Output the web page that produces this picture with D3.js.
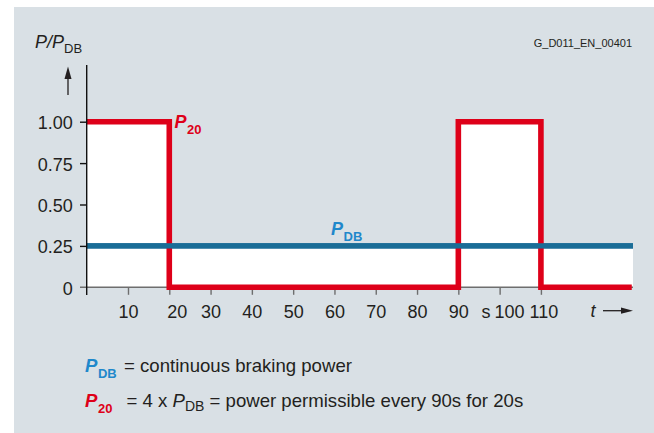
<!DOCTYPE html>
<html>
<head>
<meta charset="utf-8">
<script src="https://cdn.jsdelivr.net/npm/d3@7"></script>
<style>
  html, body { margin: 0; padding: 0; background: #ffffff; }
  svg { display: block; font-family: "Liberation Sans", Arial, Helvetica, sans-serif; }
</style>
</head>
<body>
<svg id="chart" width="654" height="433"></svg>
<script>
// Braking duty cycle: permissible peak power P20 vs. continuous braking power PDB
const stepTimes = [0, 20, 90, 110, 132];      // s, start of each step
const p20Values = [1, 0, 1, 0, 0];            // P/PDB at each step
const pdbValue = 0.25;                         // continuous level
const xTicks = [10, 20, 30, 40, 50, 60, 70, 80, 90, 100, 110];
const yTicks = [0, 0.25, 0.5, 0.75, 1];
const yTickLabels = ["0", "0.25", "0.50", "0.75", "1.00"];
const xMax = 132.3;

const svg = d3.select("#chart");
const W = 654, H = 433;

const ink = "#231f20";
const red = "#de0019";
const blueLine = "#1a6d97";
const blueText = "#1f88cb";

const x = d3.scaleLinear().domain([0, xMax]).range([86.7, 633]);
const y = d3.scaleLinear().domain([0, 1]).range([287.3, 121.7]);

// panel
svg.append("rect").attr("x", 14).attr("y", 7).attr("width", W - 14).attr("height", H - 7)
  .attr("fill", "#d9e0e5");

// white envelope under the larger of the two curves
const envelope = stepTimes.map((t, i) => ({ t, v: Math.max(p20Values[i], pdbValue) }));
envelope.push({ t: xMax, v: pdbValue });
svg.append("path")
  .datum(envelope)
  .attr("fill", "#ffffff")
  .attr("d", d3.area().curve(d3.curveStepAfter)
    .x(d => x(d.t)).y0(y(0)).y1(d => y(d.v)));

// x axis (grey baseline with ticks below)
const xAxis = svg.append("g").attr("transform", `translate(0,${y(0)})`)
  .call(d3.axisBottom(x).tickValues(xTicks).tickSize(7.5).tickFormat(""));
xAxis.select(".domain").remove();
xAxis.selectAll(".tick line").attr("stroke", "#6e6e6e").attr("stroke-width", 1.4);
svg.append("line")
  .attr("x1", 80).attr("x2", x(xMax)).attr("y1", y(0)).attr("y2", y(0))
  .attr("stroke", "#6e6e6e").attr("stroke-width", 1.5);

// x tick labels (a few nudged clear of the pulse edges)
const nudge = { 20: 8, 100: 10, 110: 3 };
svg.append("g").selectAll("text").data(xTicks).join("text")
  .attr("x", d => x(d) + (nudge[d] ?? 0.5))
  .attr("y", 318)
  .attr("text-anchor", "middle")
  .attr("font-size", 18)
  .attr("fill", ink)
  .text(d => d);
svg.append("text").attr("x", 486).attr("y", 318).attr("text-anchor", "middle")
  .attr("font-size", 18).attr("fill", ink).text("s");

// t axis label with arrow
svg.append("text").attr("x", 593).attr("y", 317).attr("text-anchor", "middle")
  .attr("font-size", 18).attr("font-style", "italic").attr("fill", ink).text("t");
svg.append("line").attr("x1", 603).attr("x2", 624).attr("y1", 310.7).attr("y2", 310.7)
  .attr("stroke", ink).attr("stroke-width", 1.3);
svg.append("path").attr("d", "M633,310.7 L621,307.6 L621,313.8 Z").attr("fill", ink);

// continuous level PDB
const pdbLine = d3.line().x(d => x(d)).y(() => y(pdbValue));
svg.append("path")
  .datum([0, xMax])
  .attr("fill", "none")
  .attr("stroke", blueLine)
  .attr("stroke-width", 5.4)
  .attr("d", pdbLine);

// P20 pulse train
svg.append("path")
  .datum(stepTimes.map((t, i) => ({ t, v: p20Values[i] })))
  .attr("fill", "none")
  .attr("stroke", red)
  .attr("stroke-width", 5.6)
  .attr("stroke-linejoin", "miter")
  .attr("d", d3.line().curve(d3.curveStepAfter).x(d => x(d.t)).y(d => y(d.v)));

// redraw blue over the pulse edges
svg.append("path")
  .datum([0, xMax])
  .attr("fill", "none")
  .attr("stroke", blueLine)
  .attr("stroke-width", 5.4)
  .attr("d", pdbLine);

// y axis
svg.append("line").attr("x1", 86.7).attr("x2", 86.7).attr("y1", 65).attr("y2", 295)
  .attr("stroke", "#111").attr("stroke-width", 1.4);
const yAxis = svg.append("g").attr("transform", "translate(86.7,0)")
  .call(d3.axisLeft(y).tickValues(yTicks.filter(v => v > 0)).tickSize(6.7).tickFormat(""));
yAxis.select(".domain").remove();
yAxis.selectAll(".tick line").attr("stroke", "#111").attr("stroke-width", 1.4);
svg.append("g").selectAll("text").data(yTicks).join("text")
  .attr("x", 72.7)
  .attr("y", d => y(d) + 7.5)
  .attr("text-anchor", "end")
  .attr("font-size", 18)
  .attr("fill", ink)
  .text((d, i) => yTickLabels[i]);

// y axis title P/PDB with up arrow
const yTitle = svg.append("text").attr("x", 35).attr("y", 48).attr("font-size", 18).attr("fill", ink);
yTitle.append("tspan").attr("font-style", "italic").text("P/P");
yTitle.append("tspan").attr("font-size", 13).attr("dy", 5).text("DB");
svg.append("line").attr("x1", 68).attr("x2", 68).attr("y1", 76).attr("y2", 95)
  .attr("stroke", ink).attr("stroke-width", 1.3);
svg.append("path").attr("d", "M68,66.5 L64.5,79 L71.5,79 Z").attr("fill", ink);

// figure code
svg.append("text").attr("x", 632).attr("y", 47).attr("text-anchor", "end")
  .attr("font-size", 11).attr("fill", ink).text("G_D011_EN_00401");

// bold italic symbol P with a subscript, set as one text run
function symbol(xp, yp, sub, color, size, subSize) {
  const t = svg.append("text").attr("x", xp).attr("y", yp)
    .attr("fill", color).attr("font-weight", "bold").attr("font-size", size);
  t.append("tspan").attr("font-style", "italic").text("P");
  t.append("tspan").attr("font-size", subSize).attr("dx", 0.5).attr("dy", 6).text(sub);
  return t;
}
symbol(174.5, 128, "20", red, 18, 13);
symbol(331, 235, "DB", blueText, 18, 13);

// legend
symbol(85, 372, "DB", blueText, 18.6, 13);
svg.append("text").attr("x", 124).attr("y", 372).attr("font-size", 18.6).attr("fill", ink)
  .text("= continuous braking power");

symbol(85, 407, "20", red, 18.6, 13);
const l2 = svg.append("text").attr("x", 126.5).attr("y", 407).attr("font-size", 18.6).attr("fill", ink);
l2.append("tspan").text("= 4 x ");
l2.append("tspan").attr("font-style", "italic").text("P");
l2.append("tspan").attr("font-size", 14).attr("dy", 4).text("DB");
l2.append("tspan").attr("dy", -4).text(" = power permissible every 90s for 20s");
</script>
</body>
</html>
